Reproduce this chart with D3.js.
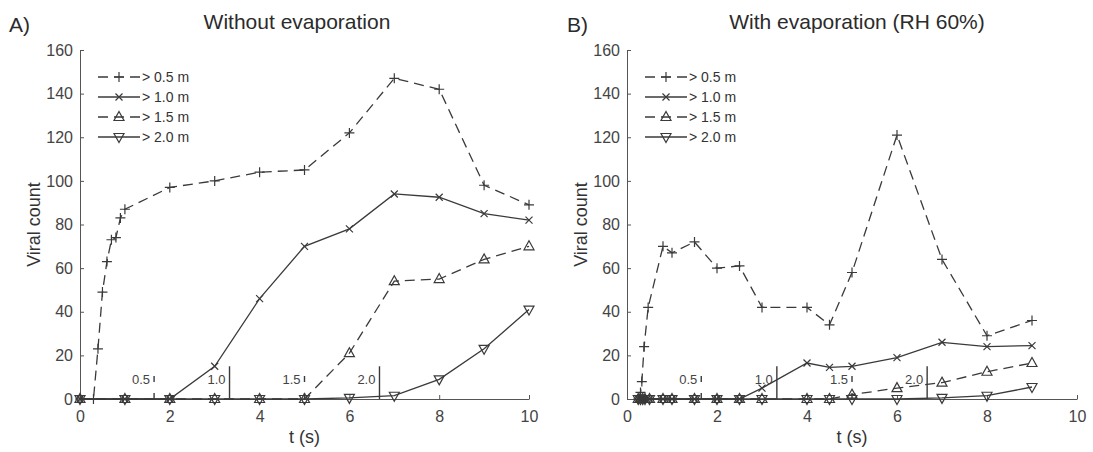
<!DOCTYPE html>
<html>
<head>
<meta charset="utf-8">
<script src="https://cdn.jsdelivr.net/npm/d3@7"></script>
<style>
  html, body { margin: 0; padding: 0; background: #fff; }
  svg { display: block; font-family: "Liberation Sans", Arial, Helvetica, sans-serif; }
</style>
</head>
<body>
<div id="chart"></div>
<script>
// A) sem evaporacao
const T_A_05 = [0, 0.3, 0.4, 0.5, 0.6, 0.7, 0.8, 0.9, 1, 2, 3, 4, 5, 6, 7, 8, 9, 10];
const V_A_05 = [0, 0, 23, 49, 63, 73, 74, 83, 87, 97, 100, 104, 105, 122, 147, 142, 98, 89];
const T_A = [0, 1, 2, 3, 4, 5, 6, 7, 8, 9, 10];
const V_A_10 = [0, 0, 0, 15, 46, 70, 78, 94, 92.5, 85, 82];
const V_A_15 = [0, 0, 0, 0, 0, 0, 21, 54, 55, 64, 70];
const V_A_20 = [0, 0, 0, 0, 0, 0, 0.5, 1.5, 9, 23, 41];

// B) com evaporacao (RH 60%)
const T_B_05 = [0.25, 0.3, 0.33, 0.38, 0.47, 0.8, 1, 1.5, 2, 2.5, 3, 4, 4.5, 5, 6, 7, 8, 9];
const V_B_05 = [0, 3, 8, 24, 42, 70, 67, 72, 60, 61, 42, 42, 34, 58, 121, 64, 29, 36];
const T_B = [0.25, 0.3, 0.35, 0.4, 0.5, 0.8, 1, 1.5, 2, 2.5, 3, 4, 4.5, 5, 6, 7, 8, 9];
const V_B_10 = [0, 0, 0, 0, 0, 0, 0, 0, 0, 0, 5, 16.5, 14.5, 15, 19, 26, 24, 24.5];
const V_B_15 = [0, 0, 0, 0, 0, 0, 0, 0, 0, 0, 0, 0, 0, 2, 5, 7.5, 12.5, 16.5];
const V_B_20 = [0, 0, 0, 0, 0, 0, 0, 0, 0, 0, 0, 0, 0, 0, 0, 0.5, 1.5, 5.5];

const SERIES_LABELS = ["> 0.5 m", "> 1.0 m", "> 1.5 m", "> 2.0 m"];
const MARK_TIMES = [1.65, 3.33, 5.0, 6.67];
const MARK_LABELS = ["0.5", "1.0", "1.5", "2.0"];
const MARK_HEIGHT = 15;
const X_TICKS = [0, 2, 4, 6, 8, 10];
const Y_TICKS = [0, 20, 40, 60, 80, 100, 120, 140, 160];

const INK = "#3a3a3a";
const AXIS = "#555";
const LABEL = "#444";

// marcadores em estilo matlab (sem preenchimento)
const MARKERS = {
  plus: "M-5,0H5M0,-5V5",
  times: "M-3.5,-3.5L3.5,3.5M-3.5,3.5L3.5,-3.5",
  up: "M0,-5.5L5,3.5L-5,3.5Z",
  down: "M0,5.5L5,-3.5L-5,-3.5Z",
};

const STYLES = [
  { marker: "plus", dash: "10,6" },
  { marker: "times", dash: null },
  { marker: "up", dash: "10,6" },
  { marker: "down", dash: null },
];

const PANELS = [
  {
    tag: "A)",
    title: "Without evaporation",
    xRange: [80, 529],
    titleX: 297,
    tagX: 9,
    series: [
      [T_A_05, V_A_05],
      [T_A, V_A_10],
      [T_A, V_A_15],
      [T_A, V_A_20],
    ],
  },
  {
    tag: "B)",
    title: "With evaporation (RH 60%)",
    xRange: [627, 1077],
    titleX: 857,
    tagX: 567,
    series: [
      [T_B_05, V_B_05],
      [T_B, V_B_10],
      [T_B, V_B_15],
      [T_B, V_B_20],
    ],
  },
];

const svg = d3.select("#chart").append("svg").attr("width", 1093).attr("height", 452);
svg.append("rect").attr("width", 1093).attr("height", 452).attr("fill", "#fff");

PANELS.forEach(drawPanel);

function drawPanel(p) {
  const x = d3.scaleLinear().domain([0, 10]).range(p.xRange);
  const y = d3.scaleLinear().domain([0, 160]).range([399, 50]);
  const g = svg.append("g");

  // eixos com ticks para dentro
  const gx = g
    .append("g")
    .attr("transform", `translate(0,${y(0)})`)
    .call(d3.axisBottom(x).tickValues(X_TICKS).tickSize(-4).tickSizeOuter(0).tickPadding(12));
  const gy = g
    .append("g")
    .attr("transform", `translate(${x(0)},0)`)
    .call(d3.axisLeft(y).tickValues(Y_TICKS).tickSize(-4).tickSizeOuter(0).tickPadding(7));
  [gx, gy].forEach((a) => {
    a.attr("font-family", null).attr("font-size", null);
    a.selectAll("line,path").attr("stroke", AXIS).attr("stroke-width", 1);
    a.selectAll("text").attr("fill", LABEL).attr("font-size", 16);
  });

  g.append("text")
    .attr("x", p.titleX)
    .attr("y", 29)
    .attr("text-anchor", "middle")
    .attr("font-size", 21)
    .attr("fill", "#2b2b2b")
    .text(p.title);
  g.append("text").attr("x", p.tagX).attr("y", 32).attr("font-size", 21).attr("fill", "#2b2b2b").text(p.tag);

  g.append("text")
    .attr("transform", `translate(${x(0) - 40},${(y(0) + y(160)) / 2}) rotate(-90)`)
    .attr("text-anchor", "middle")
    .attr("font-size", 18)
    .attr("fill", "#333")
    .text("Viral count");
  g.append("text")
    .attr("x", (x(0) + x(10)) / 2)
    .attr("y", 443)
    .attr("text-anchor", "middle")
    .attr("font-size", 18)
    .attr("fill", "#333")
    .text("t (s)");

  // linhas verticais: instante em que cada distancia e alcancada
  MARK_TIMES.forEach((t, i) => {
    g.append("line")
      .attr("x1", x(t))
      .attr("x2", x(t))
      .attr("y1", y(0))
      .attr("y2", y(MARK_HEIGHT))
      .attr("stroke", INK)
      .attr("stroke-width", 1.4)
      .attr("stroke-dasharray", i % 2 === 0 ? "6,11" : null);
    g.append("text")
      .attr("x", x(t) - 4)
      .attr("y", 384)
      .attr("text-anchor", "end")
      .attr("font-size", 13)
      .attr("fill", LABEL)
      .text(MARK_LABELS[i]);
  });

  const line = d3
    .line()
    .x((d) => x(d[0]))
    .y((d) => y(d[1]));

  p.series.forEach(([ts, vs], i) => {
    const pts = ts.map((t, k) => [t, vs[k]]);
    const st = STYLES[i];
    g.append("path")
      .attr("d", line(pts))
      .attr("fill", "none")
      .attr("stroke", INK)
      .attr("stroke-width", 1.3)
      .attr("stroke-dasharray", st.dash);
    g.append("g")
      .selectAll("path")
      .data(pts)
      .join("path")
      .attr("transform", (d) => `translate(${x(d[0])},${y(d[1])})`)
      .attr("d", MARKERS[st.marker])
      .attr("fill", "none")
      .attr("stroke", INK)
      .attr("stroke-width", 1.2);
  });

  // legenda
  const lx = x(0) + 18;
  SERIES_LABELS.forEach((label, i) => {
    const ly = 77 + i * 20;
    const st = STYLES[i];
    g.append("line")
      .attr("x1", lx)
      .attr("x2", lx + 42)
      .attr("y1", ly)
      .attr("y2", ly)
      .attr("stroke", INK)
      .attr("stroke-width", 1.3)
      .attr("stroke-dasharray", st.dash);
    g.append("path")
      .attr("transform", `translate(${lx + 21},${ly})`)
      .attr("d", MARKERS[st.marker])
      .attr("fill", "none")
      .attr("stroke", INK)
      .attr("stroke-width", 1.2);
    g.append("text")
      .attr("x", lx + 44)
      .attr("y", ly + 5)
      .attr("font-size", 14)
      .attr("fill", "#333")
      .text(label);
  });
}
</script>
</body>
</html>
